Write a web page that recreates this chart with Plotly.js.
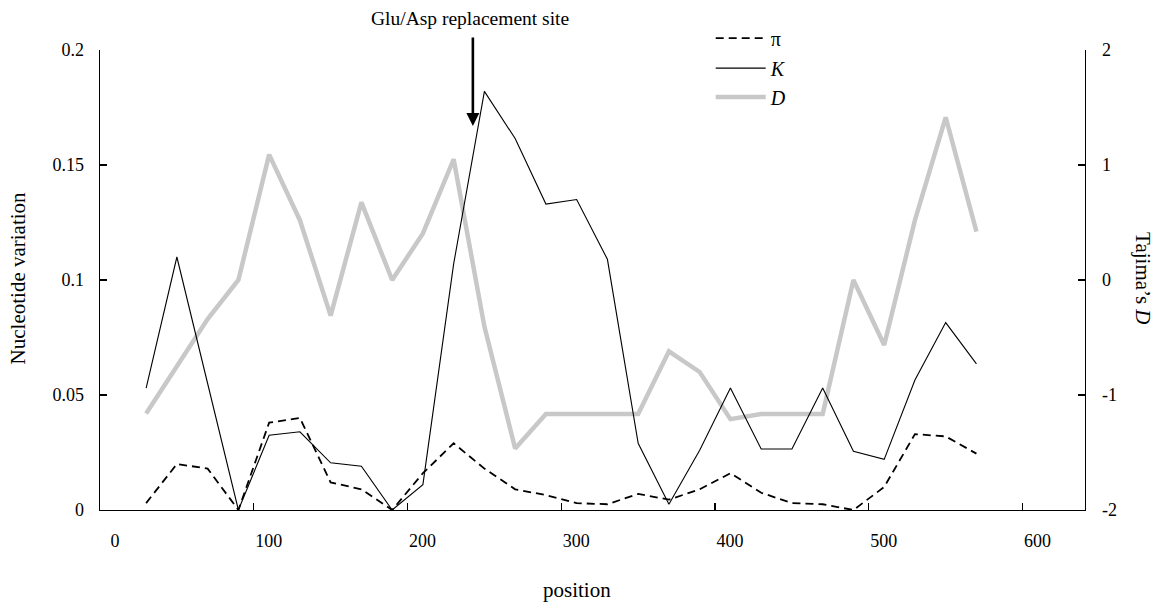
<!DOCTYPE html>
<html>
<head>
<meta charset="utf-8">
<script src="https://cdn.plot.ly/plotly-3.0.1.min.js"></script>
<style>html,body{margin:0;padding:0;background:#fff;}#chart{width:1159px;height:605px;}</style>
</head>
<body>
<div id="chart"></div>
<script>
// ---- data ----
const positions = [30, 50, 70, 90, 110, 130, 150, 170, 190, 210, 230, 250, 270, 290,
                   310, 330, 350, 370, 390, 410, 430, 450, 470, 490, 510, 530, 550, 570];
const piVals = [0.003, 0.020, 0.018, 0.000, 0.038, 0.040, 0.012, 0.009, 0.000, 0.016,
                0.029, 0.018, 0.009, 0.0065, 0.003, 0.0025, 0.007, 0.0045, 0.009, 0.016,
                0.0075, 0.003, 0.0025, 0.000, 0.010, 0.033, 0.032, 0.0245];
const kVals = [0.053, 0.110, 0.055, 0.000, 0.0325, 0.034, 0.0205, 0.019, 0.000, 0.011,
               0.107, 0.182, 0.1615, 0.133, 0.135, 0.109, 0.029, 0.0025, 0.026, 0.053,
               0.0265, 0.0265, 0.053, 0.0255, 0.022, 0.0565, 0.0815, 0.0635];
const dVals = [-1.16, -0.75, -0.34, 0.0, 1.09, 0.52, -0.31, 0.675, 0.0, 0.405,
               1.05, -0.405, -1.465, -1.165, -1.165, -1.165, -1.165, -0.62, -0.80, -1.21,
               -1.165, -1.165, -1.165, 0.0, -0.565, 0.52, 1.415, 0.42];
const xTicks = [0, 100, 200, 300, 400, 500, 600];
const leftTicks = [0, 0.05, 0.1, 0.15, 0.2];
const leftTickText = ["0", "0.05", "0.1", "0.15", "0.2"];
const rightTicks = [-2, -1, 0, 1, 2];
const rightTickText = ["-2", "-1", "0", "1", "2"];
const seriesNames = ["\u03c0", "<i>K</i>", "<i>D</i>"];

const FONT = '"Liberation Serif", "Times New Roman", serif';

const traces = [
  {
    x: positions, y: dVals, type: 'scatter', mode: 'lines', name: seriesNames[2],
    yaxis: 'y', line: {color: '#c8c8c8', width: 4.5}, legend: 'legend3'
  },
  {
    x: positions, y: piVals, type: 'scatter', mode: 'lines', name: seriesNames[0],
    yaxis: 'y2', line: {color: '#000', width: 1.8, dash: '8px,5px'}, legend: 'legend'
  },
  {
    x: positions, y: kVals, type: 'scatter', mode: 'lines', name: seriesNames[1],
    yaxis: 'y2', line: {color: '#000', width: 1.1}, legend: 'legend2'
  }
];

const legendBase = {
  xanchor: 'left', yanchor: 'top', bgcolor: 'rgba(0,0,0,0)', borderwidth: 0,
  font: {family: FONT, size: 20, color: '#000'}, itemwidth: 50
};

const layout = {
  width: 1159, height: 605,
  margin: {l: 100, r: 74, t: 50, b: 95},
  paper_bgcolor: '#fff', plot_bgcolor: '#fff',
  font: {family: FONT, size: 18, color: '#000'},
  showlegend: true,
  legend: Object.assign({}, legendBase, {x: 0.620, y: 1.068}),
  legend2: Object.assign({}, legendBase, {x: 0.620, y: 1.003}),
  legend3: Object.assign({}, legendBase, {x: 0.620, y: 0.940}),
  xaxis: {
    range: [0, 640.6], tickvals: xTicks, ticktext: xTicks.map(String),
    ticks: 'inside', ticklen: 7, tickcolor: '#000', tickwidth: 1.2,
    showline: true, linecolor: '#000', linewidth: 1.3, showgrid: false, zeroline: false,
    ticklabelshift: 15, ticklabelstandoff: 14,
    tickfont: {family: FONT, size: 18, color: '#000'}
  },
  yaxis: {
    range: [-2, 2], side: 'right', tickvals: rightTicks, ticktext: rightTickText,
    ticks: 'inside', ticklen: 7, tickcolor: '#000', tickwidth: 1.2,
    showline: true, linecolor: '#000', linewidth: 1.3, showgrid: false, zeroline: false,
    ticklabelstandoff: 12,
    tickfont: {family: FONT, size: 18, color: '#000'}
  },
  yaxis2: {
    range: [0, 0.2], side: 'left', overlaying: 'y', tickvals: leftTicks, ticktext: leftTickText,
    ticks: 'inside', ticklen: 7, tickcolor: '#000', tickwidth: 1.2,
    showline: true, linecolor: '#000', linewidth: 1.3, showgrid: false, zeroline: false,
    ticklabelstandoff: 11,
    tickfont: {family: FONT, size: 18, color: '#000'}
  },
  annotations: [
    {text: 'Glu/Asp replacement site', xref: 'paper', yref: 'paper', x: 0.3756, y: 1.069,
     xanchor: 'center', yanchor: 'middle', showarrow: false, font: {family: FONT, size: 19.5}},
    {text: '', xref: 'x', yref: 'y2', x: 242.5, y: 0.167, ax: 0, ay: -90,
     showarrow: true, arrowhead: 2, arrowsize: 1, arrowwidth: 2.6, arrowcolor: '#000'},
    {text: 'position', xref: 'paper', yref: 'paper', x: 0.484, y: -0.174,
     xanchor: 'center', yanchor: 'middle', showarrow: false, font: {family: FONT, size: 21}},
    {text: 'Nucleotide variation', xref: 'paper', yref: 'paper', x: -0.083, y: 0.504,
     xanchor: 'center', yanchor: 'middle', textangle: -90, showarrow: false,
     font: {family: FONT, size: 21}},
    {text: 'Tajima\u2019s <i>D</i>', xref: 'paper', yref: 'paper', x: 1.059, y: 0.504,
     xanchor: 'center', yanchor: 'middle', textangle: 90, showarrow: false,
     font: {family: FONT, size: 21}}
  ]
};

Plotly.newPlot('chart', traces, layout, {displayModeBar: false, staticPlot: true});
</script>
</body>
</html>
